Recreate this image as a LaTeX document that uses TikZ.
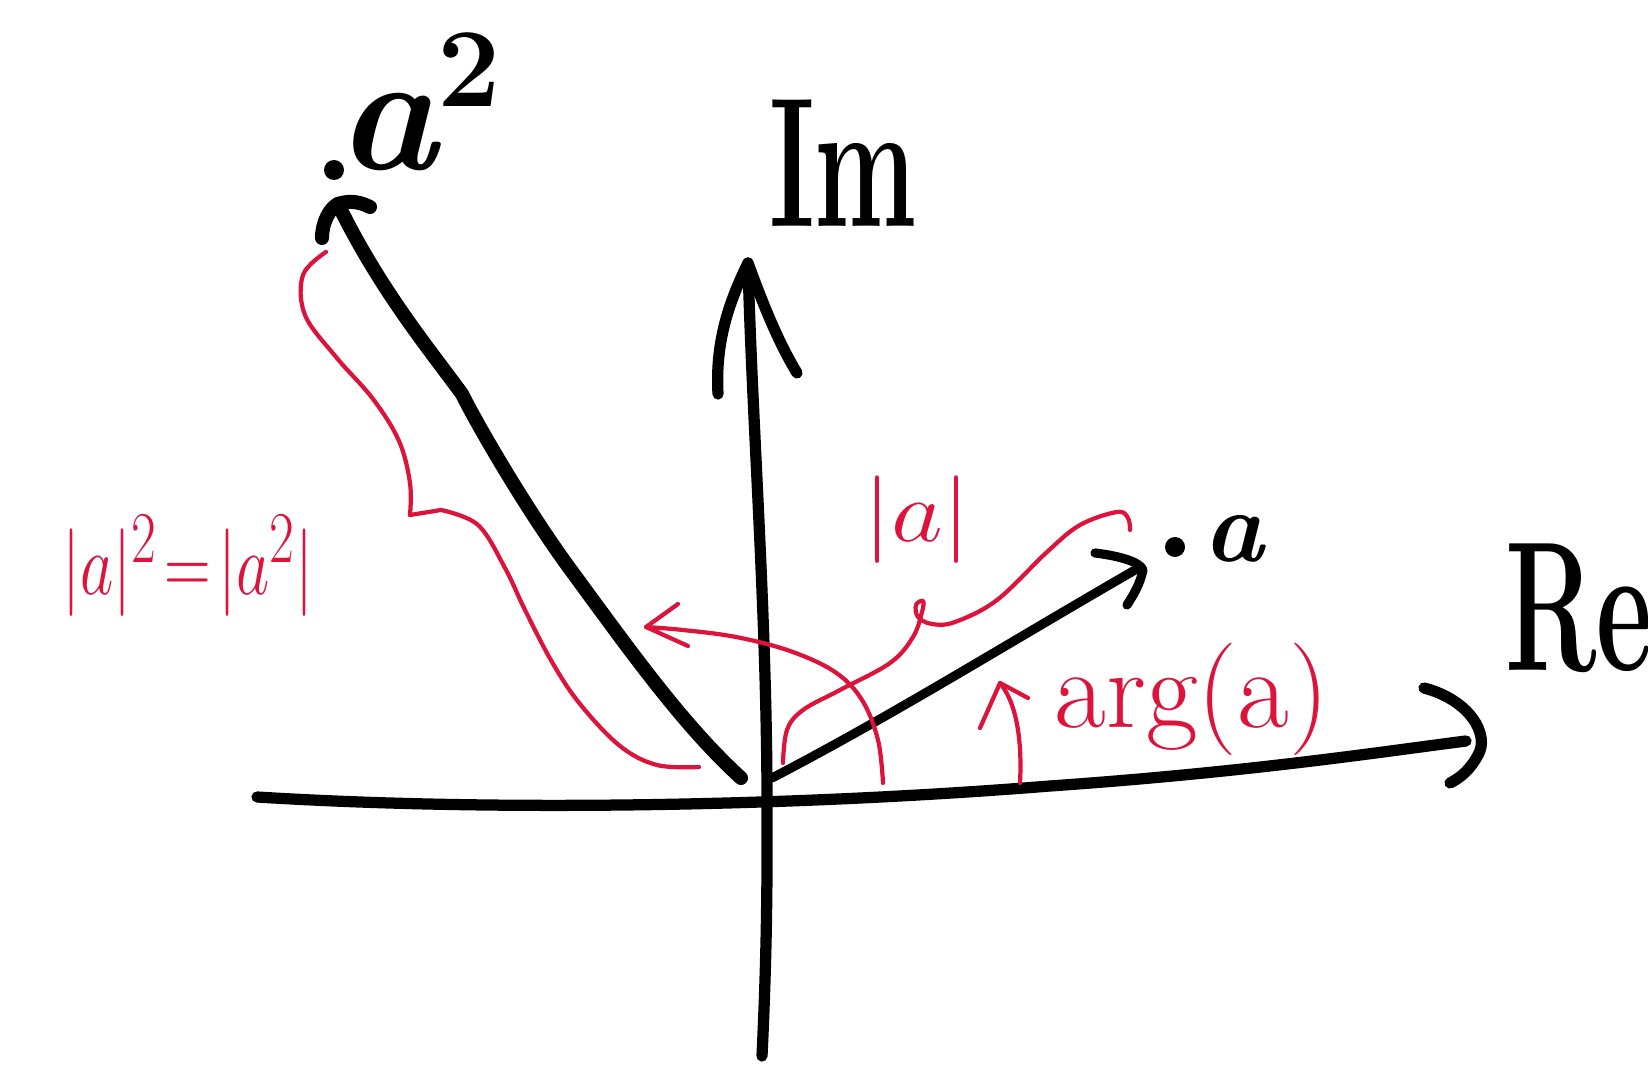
\documentclass[tikz,border=0pt]{standalone}
\usetikzlibrary{calc}
\definecolor{inkred}{RGB}{220,20,60}
\tikzset{
  ink/.style={black, line cap=round, line join=round},
  axisline/.style={ink, line width=3.2pt},
  bigvec/.style={ink, line width=4pt},
  smallvec/.style={ink, line width=2.6pt},
  redline/.style={inkred, line width=1.2pt, line cap=round, line join=round},
  blacklabel/.style={inner sep=0pt, font=\fontsize{50}{50}\selectfont\bfseries},
  redlabel/.style={inner sep=0pt, text=inkred},
}
\begin{document}
\begin{tikzpicture}[x=0.01cm,y=-0.01cm]
\useasboundingbox (0,0) rectangle (1648,1067);

% ---------- axes ----------
\coordinate (reL) at (257,797);
\coordinate (reT) at (1466,741);
\draw[axisline] (reL) .. controls (500,812) and (800,806) .. (1050,786)
  .. controls (1250,772) and (1380,752) .. (reT);
\draw[axisline] (1424,688) .. controls (1470,700) and (1490,735) .. (1478,755)
  .. controls (1470,770) and (1460,778) .. (1450,783);

\coordinate (imB) at (762,1056);
\coordinate (imT) at (748,263);
\draw[axisline] (imB) .. controls (768,930) and (767,850) .. (767,790)
  .. controls (766,600) and (752,420) .. (imT);
\draw[axisline] (718,394) .. controls (715,340) and (730,300) .. (imT)
  .. controls (765,310) and (780,345) .. (797,373);

\node[blacklabel, xscale=0.62, yscale=1.05] (Im) at (843,163) {Im};
\node[blacklabel, anchor=west, xscale=0.62, yscale=1.05] (Re) at (1505,608) {Re};

% ---------- vector a ----------
\coordinate (aS) at (772,778);
\coordinate (aT) at (1135,570);
\draw[smallvec] (aS) .. controls (893,715) and (1000,648) .. (aT);
\draw[smallvec] (1095,553) .. controls (1120,556) and (1140,562) .. (1143,570)
  .. controls (1140,585) and (1132,597) .. (1127,605);
\fill (1175,547) coordinate (adot) circle (10);
\node[inner sep=0pt, anchor=base west, font=\fontsize{29}{29}\selectfont\bfseries\itshape] (alab) at (1203,562) {a};

% ---------- vector a^2 ----------
\coordinate (bS) at (741,778);
\coordinate (bT) at (338,204);
\draw[bigvec] (bS) .. controls (683,725) and (631,652) .. (573,573)
  .. controls (530,515) and (480,430) .. (462,394)
  .. controls (430,350) and (380,290) .. (bT);
\draw[bigvec] (322,238) .. controls (322,222) and (330,208) .. (bT)
  .. controls (350,200) and (360,202) .. (370,207);
\fill (334,170) coordinate (bdot) circle (10);
\node[inner sep=0pt, anchor=base west, font=\fontsize{48}{48}\selectfont\bfseries\itshape] (blab) at (337,170)
  {a\raisebox{18pt}{\fontsize{32}{32}\selectfont\upshape 2}};

% ---------- red annotations ----------
% brace along a^2
\draw[redline] plot[smooth, tension=0.6] coordinates {(326,252) (303,275) (305,315) (336,357) (373,399) (399,441) (410,483) (410,515)};
\draw[redline] (410,515) -- (441,510);
\draw[redline] plot[smooth, tension=0.6] coordinates {(441,510) (478,525) (505,568) (525,610) (552,662) (580,704) (620,746) (657,765) (699,767)};
\node[redlabel, font=\fontsize{30}{30}\selectfont, xscale=0.74] (sqlab) at (188,566) {$|a|^{2}\!=\!|a^{2}|$};

% brace along a
\draw[redline] plot[smooth, tension=0.6] coordinates {(783,763) (787,730) (803,710) (840,690) (890,663) (913,637) (922,612) (923,601) (916,605) (918,617) (932,624) (955,622) (997,600) (1047,552) (1080,525) (1117,512) (1128,518) (1130,530)};
\node[redlabel, font=\fontsize{25}{25}\selectfont, xscale=1.15] (modlab) at (917,520) {$|a|$};

% rotation arrow
\coordinate (rotS) at (883,783);
\coordinate (rotT) at (646,627);
\draw[redline] plot[smooth, tension=0.6] coordinates {(rotS) (878,740) (862,700) (835,672) (790,651) (736,637) (683,630) (rotT)};
\draw[redline] (678,604) -- (rotT) -- (688,646);

% argument arrow
\coordinate (argS) at (1020,783);
\coordinate (argT) at (1000,683);
\draw[redline] (argS) .. controls (1022,745) and (1018,705) .. (argT);
\draw[redline] (980,728) -- (argT) -- (1028,698);
\node[redlabel, anchor=base west, font=\fontsize{32}{32}\selectfont] (arglab) at (1054,727) {arg(a)};

\end{tikzpicture}
\end{document}
